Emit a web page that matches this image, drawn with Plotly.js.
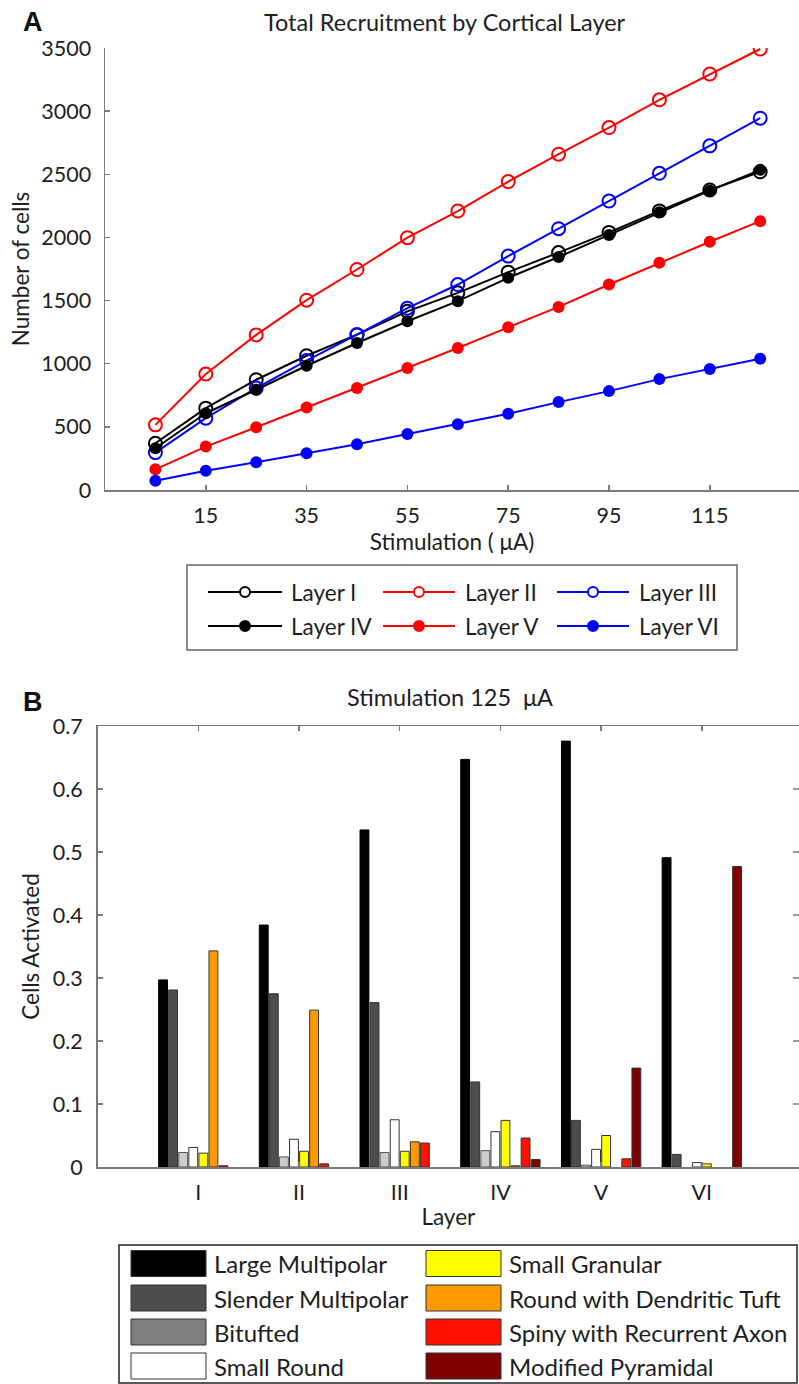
<!DOCTYPE html>
<html>
<head>
<meta charset="utf-8">
<script src="https://cdn.plot.ly/plotly-3.0.1.min.js"></script>
<style>html,body{margin:0;padding:0;background:#fff;}</style>
</head>
<body>
<div id="chart" style="width:799px;height:1384px;"></div>
<script>
// ---- Panel A: recruitment per cortical layer vs stimulation ----
const stimulation = [5, 15, 25, 35, 45, 55, 65, 75, 85, 95, 105, 115, 125];
const stimTicks = [15, 35, 55, 75, 95, 115];
const layerI   = [370, 648, 873, 1063, 1230, 1415, 1561, 1725, 1880, 2040, 2210, 2376, 2520];
const layerII  = [516, 918, 1228, 1503, 1746, 1998, 2209, 2442, 2659, 2870, 3090, 3294, 3492];
const layerIII = [296, 569, 807, 1025, 1230, 1440, 1627, 1852, 2069, 2288, 2508, 2725, 2944];
const layerIV  = [331, 608, 794, 984, 1164, 1336, 1495, 1680, 1845, 2020, 2200, 2370, 2535];
const layerV   = [164, 344, 497, 653, 807, 966, 1124, 1288, 1450, 1627, 1799, 1966, 2129];
const layerVI  = [74, 153, 220, 291, 362, 444, 521, 603, 696, 783, 878, 958, 1040];
const layerNames = ['Layer I', 'Layer II', 'Layer III', 'Layer IV', 'Layer V', 'Layer VI'];

// ---- Panel B: fraction of each cell type activated at 125 uA ----
const layerCategories = ['I', 'II', 'III', 'IV', 'V', 'VI'];
const largeMultipolar    = [0.297, 0.384, 0.535, 0.647, 0.676, 0.491];
const slenderMultipolar  = [0.281, 0.275, 0.261, 0.135, 0.074, 0.020];
const bitufted           = [0.023, 0.016, 0.023, 0.026, 0.003, 0];
const smallRound         = [0.031, 0.044, 0.075, 0.056, 0.028, 0.007];
const smallGranular      = [0.022, 0.025, 0.025, 0.074, 0.050, 0.005];
const roundDendriticTuft = [0.343, 0.249, 0.040, 0.002, 0, 0];
const spinyRecurrentAxon = [0.002, 0.005, 0.038, 0.046, 0.013, 0];
const modifiedPyramidal  = [0, 0, 0, 0.012, 0.157, 0.477];
const cellTypeNames = ['Large Multipolar', 'Slender Multipolar', 'Bitufted', 'Small Round',
  'Small Granular', 'Round with Dendritic Tuft', 'Spiny with Recurrent Axon', 'Modified Pyramidal'];

const W = 799, H = 1384;
const px = x => x / W;
const py = y => 1 - y / H;
const FONT = 'Lato, "Open Sans", sans-serif';
const TXT = '#1e1e1e';
const AXIS = '#7a7a7a';

// line styles per layer
const lineStyles = [
  {color: '#000000', open: true},
  {color: '#ff0000', open: true},
  {color: '#0000ff', open: true},
  {color: '#000000', open: false},
  {color: '#ff0000', open: false},
  {color: '#0000ff', open: false}
];
const layerSeries = [layerI, layerII, layerIII, layerIV, layerV, layerVI];

const traces = [];
layerSeries.forEach((ys, i) => {
  const st = lineStyles[i];
  traces.push({
    type: 'scatter', mode: 'lines+markers', name: layerNames[i],
    x: stimulation, y: ys, xaxis: 'x', yaxis: 'y', showlegend: false,
    line: {color: st.color, width: 2},
    marker: st.open
      ? {symbol: 'circle-open', size: 13, color: st.color, line: {width: 2, color: st.color}}
      : {symbol: 'circle', size: 12, color: st.color}
  });
});

// bar fills / outlines per cell type
const barStyles = [
  {fill: '#000000', edge: '#000000'},
  {fill: '#4d4d4d', edge: '#333333'},
  {fill: '#cccccc', edge: '#555555'},
  {fill: '#ffffff', edge: '#333333'},
  {fill: '#ffff00', edge: '#333333'},
  {fill: '#ff9900', edge: '#333333'},
  {fill: '#ff1100', edge: '#333333'},
  {fill: '#800000', edge: '#333333'}
];
const legendSwatch = ['#000000', '#4d4d4d', '#808080', '#ffffff', '#ffff00', '#ff9900', '#ff1100', '#800000'];
const cellSeries = [largeMultipolar, slenderMultipolar, bitufted, smallRound,
  smallGranular, roundDendriticTuft, spinyRecurrentAxon, modifiedPyramidal];

cellSeries.forEach((ys, i) => {
  traces.push({
    type: 'bar', name: cellTypeNames[i], x: layerCategories,
    // empty cells are left undrawn so no outline sits on the baseline
    y: ys.map(v => (v === 0 ? null : v)),
    xaxis: 'x2', yaxis: 'y2', showlegend: false,
    marker: {color: barStyles[i].fill, line: {color: barStyles[i].edge, width: 1}}
  });
});

const tickFont = {family: FONT, size: 21.5, color: TXT};
const titleFont = {family: FONT, size: 22.5, color: TXT};

const shapes = [];
const annotations = [];

function label(text, x, y, opts) {
  annotations.push(Object.assign({
    text: text, x: px(x), y: py(y), xref: 'paper', yref: 'paper',
    showarrow: false, xanchor: 'left', yanchor: 'middle',
    font: {family: FONT, size: 22.5, color: TXT}
  }, opts || {}));
}

// panel letters and titles
label('<b>A</b>', 33, 22, {xanchor: 'center', font: {family: '"Liberation Sans", Arial, sans-serif', size: 27, color: '#111'}});
label('Total Recruitment by Cortical Layer', 445, 22, {xanchor: 'center', font: {family: FONT, size: 23.5, color: TXT}});
label('<b>B</b>', 33, 702, {xanchor: 'center', font: {family: '"Liberation Sans", Arial, sans-serif', size: 27, color: '#111'}});
label('Stimulation 125 \u00a0μA', 450, 697, {xanchor: 'center', font: {family: FONT, size: 23.5, color: TXT}});

// legend for panel A (2 rows x 3 columns)
shapes.push({type: 'rect', xref: 'paper', yref: 'paper', x0: px(187), x1: px(737), y0: py(565), y1: py(650),
  line: {color: '#666666', width: 1.5}, fillcolor: 'rgba(0,0,0,0)'});
const legCols = [{l0: 208, l1: 282, tx: 289}, {l0: 383, l1: 455, tx: 463}, {l0: 557, l1: 629, tx: 637}];
const legRows = [592, 626];
layerNames.forEach((nm, i) => {
  const c = legCols[i % 3], r = legRows[Math.floor(i / 3)], st = lineStyles[i];
  const mx = (c.l0 + c.l1) / 2, rad = 5;
  shapes.push({type: 'line', xref: 'paper', yref: 'paper', x0: px(c.l0), x1: px(c.l1), y0: py(r), y1: py(r),
    line: {color: st.color, width: 2}});
  shapes.push({type: 'circle', xref: 'paper', yref: 'paper', x0: px(mx - rad), x1: px(mx + rad),
    y0: py(r + rad), y1: py(r - rad), line: {color: st.color, width: 2},
    fillcolor: st.open ? '#ffffff' : st.color});
  label(nm, c.tx, r);
});

// right-hand y ticks of panel B
[0.1, 0.2, 0.3, 0.4, 0.5, 0.6].forEach(v => {
  shapes.push({type: 'line', xref: 'paper', yref: 'y2', x0: px(793), x1: 1, y0: v, y1: v,
    line: {color: AXIS, width: 1.5}});
});

// legend for panel B (2 columns x 4 rows)
shapes.push({type: 'rect', xref: 'paper', yref: 'paper', x0: px(119), x1: px(797), y0: py(1245), y1: py(1383),
  line: {color: '#222222', width: 1.5}, fillcolor: 'rgba(0,0,0,0)'});
const swCols = [{s0: 131, s1: 206, tx: 212}, {s0: 426, s1: 501, tx: 507}];
const swRows = [1263.5, 1298, 1332, 1366];
cellTypeNames.forEach((nm, i) => {
  const c = swCols[Math.floor(i / 4)], r = swRows[i % 4];
  shapes.push({type: 'rect', xref: 'paper', yref: 'paper', x0: px(c.s0), x1: px(c.s1),
    y0: py(r + 13), y1: py(r - 13), line: {color: '#333333', width: 1}, fillcolor: legendSwatch[i]});
  label(nm, c.tx, r, {font: {family: FONT, size: 24, color: TXT}});
});

const layout = {
  width: W, height: H,
  margin: {l: 0, r: 0, t: 0, b: 0},
  paper_bgcolor: '#ffffff', plot_bgcolor: '#ffffff',
  showlegend: false,
  barmode: 'group', bargap: 0.2, bargroupgap: 0.12,
  xaxis: {
    domain: [px(105), 1], range: [-5, 132.7], anchor: 'y',
    tickmode: 'array', tickvals: stimTicks,
    ticks: 'inside', ticklen: 5, tickwidth: 1.5, tickcolor: AXIS,
    showline: true, linecolor: AXIS, linewidth: 1.5,
    showgrid: false, zeroline: false, tickfont: tickFont, ticklabelstandoff: 6,
    title: {text: 'Stimulation ( μA)', font: titleFont, standoff: 4}
  },
  yaxis: {
    domain: [py(490), py(48)], range: [0, 3500], anchor: 'x', dtick: 500,
    ticks: 'inside', ticklen: 5, tickwidth: 1.5, tickcolor: AXIS,
    showline: true, linecolor: AXIS, linewidth: 1.5,
    showgrid: false, zeroline: false, tickfont: tickFont, ticklabelstandoff: 8,
    title: {text: 'Number of cells', font: titleFont, standoff: 5}
  },
  xaxis2: {
    domain: [px(97.6), 1], range: [-1, 5.965], anchor: 'y2', type: 'category',
    ticks: 'inside', ticklen: 5, tickwidth: 1.5, tickcolor: AXIS,
    showline: true, linecolor: AXIS, linewidth: 1.5, mirror: 'ticks',
    showgrid: false, zeroline: false, tickfont: tickFont, ticklabelstandoff: 6,
    title: {text: 'Layer', font: titleFont, standoff: 5}
  },
  yaxis2: {
    domain: [py(1167), py(726)], range: [0, 0.7], anchor: 'x2', dtick: 0.1,
    ticks: 'inside', ticklen: 5, tickwidth: 1.5, tickcolor: AXIS,
    showline: true, linecolor: AXIS, linewidth: 1.5,
    showgrid: false, zeroline: false, tickfont: tickFont, ticklabelstandoff: 9,
    title: {text: 'Cells Activated', font: titleFont, standoff: 7}
  },
  shapes: shapes,
  annotations: annotations
};

Plotly.newPlot('chart', traces, layout, {staticPlot: true, displayModeBar: false});
</script>
</body>
</html>
